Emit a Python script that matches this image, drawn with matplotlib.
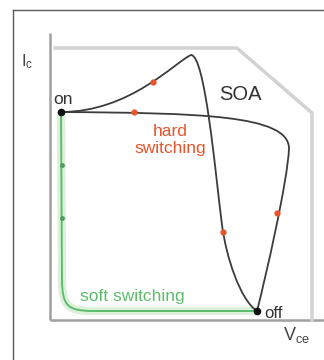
import matplotlib
matplotlib.use("Agg")
import matplotlib.pyplot as plt
from matplotlib.path import Path
from matplotlib.patches import PathPatch
from matplotlib.lines import Line2D

plt.rcParams['font.family'] = ['Liberation Sans', 'DejaVu Sans']

# operating points (V_ce, I_c) in arbitrary units
ponto_on = (11, 208)
ponto_off = (207, 9)

# hard switching, turn-on overshoot (bezier vertices)
curva_sobe_v = [11, 80, 125, 141, 155, 165, 172, 176, 190, 207]
curva_sobe_i = [208, 208, 258, 265, 265, 150, 95, 64, 20, 9]
codigos_sobe = [Path.MOVETO] + [Path.CURVE4] * 9

# hard switching, turn-off loop
curva_desce_v = [11, 150, 238, 239, 238, 215, 207]
curva_desce_i = [208, 207, 205, 172, 140, 40, 9]
codigos_desce = [Path.MOVETO] + [Path.CURVE4] * 6

# soft switching path
curva_soft_v = [11, 12, 12, 20, 40, 207]
curva_soft_i = [208, 40, 12, 10, 9, 9]
codigos_soft = [Path.MOVETO, Path.LINETO, Path.CURVE4, Path.CURVE4, Path.CURVE4, Path.LINETO]

# safe operating area boundary
soa_v = [5, 187, 262, 262]
soa_i = [272, 272, 207, 0]

# markers
pontos_verm_v = [103, 173, 84, 227]
pontos_verm_i = [238, 88, 208, 107]
pontos_verde_v = [12, 12]
pontos_verde_i = [155, 102]

cor_preta = '#3c3c3c'
cor_verm = '#e8542c'
cor_verde = '#5cbd6a'

fig = plt.figure(figsize=(3.24, 3.6), dpi=100)
ax = fig.add_axes([0, 0, 1, 1])
ax.set_xlim(-50, 274)
ax.set_ylim(-40, 320)
ax.axis('off')

# outer frame (left and top only)
fig.add_artist(Line2D([13 / 324, 13 / 324], [0, 1 - 10 / 360], color='#5a5a5a', lw=1.0,
                      transform=fig.transFigure))
fig.add_artist(Line2D([13 / 324, 1], [1 - 10 / 360, 1 - 10 / 360], color='#5a5a5a', lw=1.0,
                      transform=fig.transFigure))

# axes
ax.plot([0, 0], [0, 287], color='#a0a0a0', lw=1.8, solid_capstyle='butt')
ax.plot([0, 274], [0, 0], color='#a0a0a0', lw=1.8, solid_capstyle='butt')

# SOA
ax.plot(soa_v, soa_i, color='#d2d2d2', lw=2.5)

# soft switching (light band underneath)
caminho_soft = Path(list(zip(curva_soft_v, curva_soft_i)), codigos_soft)
ax.add_patch(PathPatch(caminho_soft, facecolor='none', edgecolor='#dcf0dc', lw=6, capstyle='butt'))
ax.add_patch(PathPatch(caminho_soft, facecolor='none', edgecolor=cor_verde, lw=1.4))

# hard switching curves
caminho_sobe = Path(list(zip(curva_sobe_v, curva_sobe_i)), codigos_sobe)
caminho_desce = Path(list(zip(curva_desce_v, curva_desce_i)), codigos_desce)
ax.add_patch(PathPatch(caminho_sobe, facecolor='none', edgecolor=cor_preta, lw=1.3))
ax.add_patch(PathPatch(caminho_desce, facecolor='none', edgecolor=cor_preta, lw=1.3))

ax.plot(pontos_verm_v, pontos_verm_i, 'o', color=cor_verm, ms=4.5, mec='none')
ax.plot(pontos_verde_v, pontos_verde_i, 'o', color='#4f9a5c', ms=3.5, mec='none')
ax.plot([ponto_on[0], ponto_off[0]], [ponto_on[1], ponto_off[1]], 'o', color='#111111', ms=4.5)

# labels
ax.text(3, 216, 'on', fontsize=12.5, color='#333333', ha='left', va='baseline')
ax.text(214, 7, 'off', fontsize=12, color='#333333', ha='left', va='center')
ax.text(190, 226, 'SOA', fontsize=14.5, color='#333333', ha='center', va='center')
ax.text(120, 180, 'hard\nswitching', fontsize=12.5, color=cor_verm, ha='center', va='center',
        multialignment='center', linespacing=1.15)
ax.text(30, 24, 'soft switching', fontsize=12.5, color=cor_verde, ha='left', va='center')
ax.text(-23, 258, r'$\mathregular{I_c}$', fontsize=12, color='#444444', ha='center', va='center')
ax.text(233, -15, r'$\mathregular{V_{ce}}$', fontsize=13, color='#444444', ha='left', va='center')

fig.savefig('out.png', dpi=100)
